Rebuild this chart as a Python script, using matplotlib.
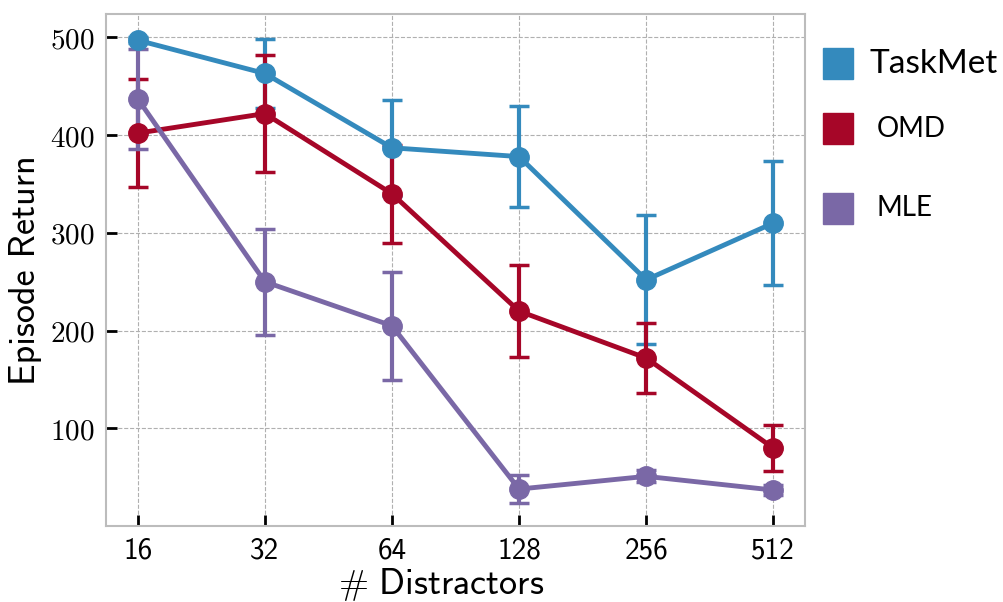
import matplotlib
matplotlib.use('Agg')
import matplotlib.pyplot as plt
from matplotlib.patches import Rectangle

plt.rcParams['mathtext.fontset'] = 'cm'
plt.rcParams['axes.unicode_minus'] = False

distractors = ['16', '32', '64', '128', '256', '512']

taskmet = [497, 463, 387, 378, 252, 310]
taskmet_err = [3, 35, 49, 52, 66, 63]

omd = [402, 422, 340, 220, 172, 80]
omd_err = [55, 60, 50, 47, 36, 24]

mle = [437, 250, 205, 38, 51, 37]
mle_err = [51, 54, 55, 14, 6, 5]

series = [('TaskMet', taskmet, taskmet_err, '#348ABD'),
          ('OMD', omd, omd_err, '#A60628'),
          ('MLE', mle, mle_err, '#7A68A6')]

fig = plt.figure(figsize=(10.04, 6.02), dpi=100)
ax = fig.add_axes([0.1056, 0.1262, 0.6962, 0.8505])

x = list(range(len(distractors)))
for name, vals, err, color in series:
    ax.errorbar(x, vals, yerr=err, color=color, lw=3.5, marker='o', ms=14,
                elinewidth=3, capsize=7, capthick=2.5)

ax.set_xticks(x, distractors, fontsize=21, family='cmss10')
yt = [100, 200, 300, 400, 500]
ax.set_yticks(yt, [r'$%d$' % v for v in yt], fontsize=21)
ax.tick_params(direction='in', length=8, width=2, color='black',
               top=False, right=False, pad=8)

ax.grid(True, ls='--', color='#b0b0b0', lw=0.8)
ax.set_axisbelow(True)
for s in ax.spines.values():
    s.set_color('#bcbcbc')
    s.set_linewidth(1.5)

ax.set_xlabel(r'$\#\ \mathsf{Distractors}$', fontsize=26, labelpad=0)
ax.xaxis.set_label_coords(0.48, -0.078)
ax.set_ylabel('Episode Return', fontsize=26, family='cmss10', labelpad=6)

# legend drawn beside the axes
leg_y = [0.894, 0.786, 0.654]
leg_size = [24, 20, 20]
leg_dx = [0.866, 0.873, 0.873]
for (name, vals, err, color), yy, fs, tx in zip(series, leg_y, leg_size, leg_dx):
    fig.patches.append(Rectangle((0.820, yy - 0.026), 0.030, 0.052,
                                 transform=fig.transFigure, color=color))
    fig.text(tx, yy, name, fontsize=fs, family='Lato', va='center', ha='left')

fig.savefig('out.png', dpi=100, facecolor='white')
